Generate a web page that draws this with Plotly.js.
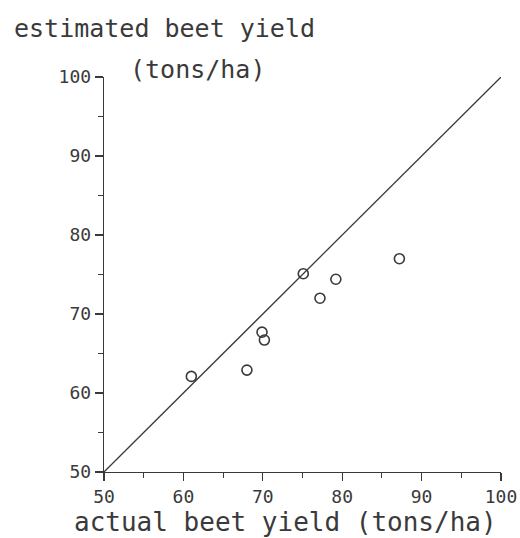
<!DOCTYPE html>
<html><head><meta charset="utf-8">
<script src="https://cdn.plot.ly/plotly-3.0.1.min.js"></script>
<style>body{margin:0;background:#fff}#c{width:520px;height:538px}</style>
</head><body><div id="c"></div>
<script>
const actualYield = [61, 68, 69.9, 70.2, 75.1, 77.2, 79.2, 87.2];
const estimatedYield = [62.1, 62.9, 67.7, 66.7, 75.1, 72.0, 74.4, 77.0];
const lineX = [50, 100];
const lineY = [50, 100];
const tickVals = [50, 60, 70, 80, 90, 100];
const tickText = ['50', '60', '70', '80', '90', '100'];

const ink = '#3a3a3a';
const fnt = 'DejaVu Sans Mono, monospace';

const data = [
  {x: lineX, y: lineY, mode: 'lines', line: {color: ink, width: 1.3}, hoverinfo: 'skip', showlegend: false},
  {x: actualYield, y: estimatedYield, mode: 'markers', showlegend: false,
   marker: {symbol: 'circle-open', size: 10, color: ink, line: {width: 1.6, color: ink}}}
];

const axisCommon = {
  range: [50, 100], tickvals: tickVals, ticktext: tickText,
  showgrid: false, zeroline: false, showline: true, linecolor: ink, linewidth: 1.3,
  ticks: 'outside', ticklen: 8, tickwidth: 1.3, tickcolor: ink,
  tickfont: {family: fnt, size: 18, color: ink},
  minor: {dtick: 5, tick0: 50, ticks: 'outside', ticklen: 5, tickcolor: ink, tickwidth: 1}
};

const layout = {
  width: 520, height: 538,
  margin: {l: 104, r: 19, t: 77, b: 66},
  paper_bgcolor: '#fff', plot_bgcolor: '#fff',
  xaxis: Object.assign({}, axisCommon, {title: {text: ''}}),
  yaxis: Object.assign({}, axisCommon, {title: {text: ''}}),
  annotations: [
    {text: 'estimated beet yield', xref: 'paper', yref: 'paper', x: -0.232, y: 1.124,
     xanchor: 'left', yanchor: 'middle', showarrow: false, font: {family: fnt, size: 25, color: ink}},
    {text: '(tons/ha)', xref: 'paper', yref: 'paper', x: 0.06, y: 1.02,
     xanchor: 'left', yanchor: 'middle', showarrow: false, font: {family: fnt, size: 25, color: ink}},
    {text: 'actual beet yield (tons/ha)', xref: 'paper', yref: 'paper', x: 0.458, y: -0.127,
     xanchor: 'center', yanchor: 'middle', showarrow: false, font: {family: fnt, size: 26, color: ink}}
  ]
};

Plotly.newPlot('c', data, layout, {staticPlot: true});
</script></body></html>
